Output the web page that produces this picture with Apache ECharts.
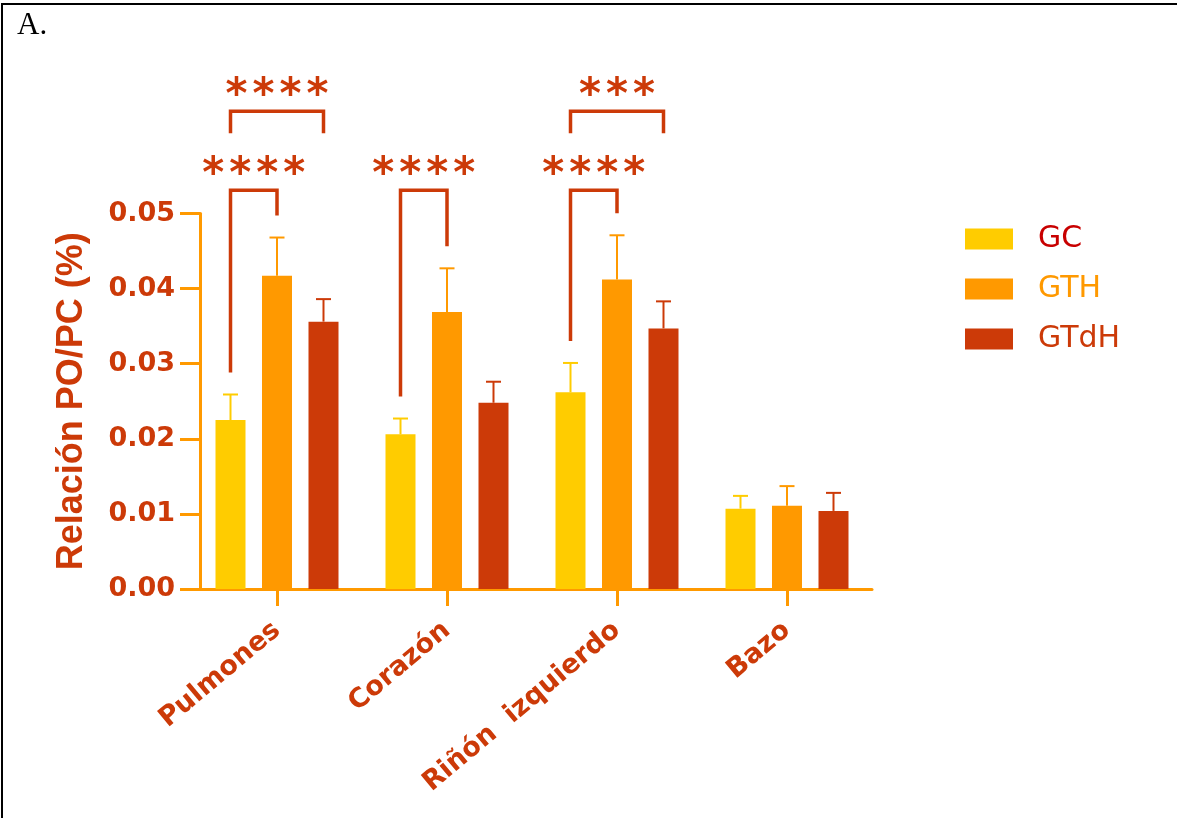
<!DOCTYPE html>
<html>
<head>
<meta charset="utf-8">
<script src="https://cdn.jsdelivr.net/npm/echarts@6/dist/echarts.min.js"></script>
<style>
  html, body { margin: 0; padding: 0; background: #ffffff; }
  #chart { width: 1177px; height: 818px; }
</style>
</head>
<body>
<div id="chart"></div>
<script>
// Organ / body weight ratio per group (mean and upper SEM)
const categories = ['Pulmones', 'Corazón', 'Riñón  izquierdo', 'Bazo'];
const groups = ['GC', 'GTH', 'GTdH'];
const meanGC   = [0.0225, 0.0206, 0.0262, 0.0107];
const meanGTH  = [0.0417, 0.0369, 0.0412, 0.0111];
const meanGTdH = [0.0356, 0.0248, 0.0347, 0.0104];
const errGC    = [0.0034, 0.0021, 0.0039, 0.0017];
const errGTH   = [0.0051, 0.0058, 0.0059, 0.0026];
const errGTdH  = [0.0030, 0.0028, 0.0036, 0.0024];
const yTicks = [0, 0.01, 0.02, 0.03, 0.04, 0.05];

// Significance brackets between groups inside one category
const bracketCat   = [0, 0, 1, 2, 2];
const bracketFrom  = [0, 0, 0, 0, 0];
const bracketTo    = [1, 2, 1, 1, 2];
const bracketLevel = [0.0531, 0.0636, 0.0531, 0.0531, 0.0636];
const bracketTier  = [1, 2, 1, 1, 2];
const bracketStars = ['****', '****', '****', '****', '***'];

const colors = ['#FFCC00', '#FF9900', '#CC3A08'];
const legendColors = ['#C80000', '#FF9900', '#CC3A08'];
const axisColor = '#FF9900';
const textColor = '#CC3A08';
const means = [meanGC, meanGTH, meanGTdH];
const errs = [errGC, errGTH, errGTdH];

const BAR_WIDTH = 30;
const BAR_GAP = 0.55;
const groupOffset = k => (k - (groups.length - 1) / 2) * BAR_WIDTH * (1 + BAR_GAP);
const LEG_GAP = 22;
const SHORT_LEG = 22;
const STAR_PITCH = 27;

const chart = echarts.init(document.getElementById('chart'), null, { renderer: 'canvas' });

const barSeries = groups.map((g, k) => ({
  type: 'bar',
  name: g,
  data: means[k],
  barWidth: BAR_WIDTH,
  barGap: (BAR_GAP * 100) + '%',
  itemStyle: { color: colors[k] },
  z: 2
}));

const errorSeries = groups.map((g, k) => ({
  type: 'custom',
  id: 'err-' + g,
  data: categories.map((_, c) => [c, means[k][c], errs[k][c]]),
  encode: { x: 0, y: 1 },
  clip: false,
  z: 3,
  renderItem: (params, api) => {
    const c = api.value(0), m = api.value(1), e = api.value(2);
    const base = api.coord([c, m]);
    const top = api.coord([c, m + e]);
    const x = base[0] + groupOffset(k);
    const style = { stroke: colors[k], lineWidth: 2 };
    return {
      type: 'group',
      children: [
        { type: 'line', shape: { x1: x, y1: base[1], x2: x, y2: top[1] }, style },
        { type: 'line', shape: { x1: x - 7.5, y1: top[1], x2: x + 7.5, y2: top[1] }, style }
      ]
    };
  }
}));

const bracketSeries = {
  type: 'custom',
  id: 'significance',
  data: bracketCat.map((c, i) => [c, bracketLevel[i]]),
  encode: { x: 0, y: 1 },
  clip: false,
  z: 4,
  renderItem: (params, api) => {
    const i = params.dataIndex;
    const cat = bracketCat[i], a = bracketFrom[i], b = bracketTo[i];
    const xc = api.coord([cat, 0])[0];
    const xa = xc + groupOffset(a), xb = xc + groupOffset(b);
    const yl = api.coord([cat, bracketLevel[i]])[1];
    let ya, yb;
    if (bracketTier[i] === 1) {
      ya = api.coord([cat, means[a][cat] + errs[a][cat]])[1] - LEG_GAP;
      yb = api.coord([cat, means[b][cat] + errs[b][cat]])[1] - LEG_GAP;
    } else {
      ya = yb = yl + SHORT_LEG;
    }
    const children = [{
      type: 'polyline',
      shape: { points: [[xa, ya], [xa, yl], [xb, yl], [xb, yb]] },
      style: { stroke: textColor, lineWidth: 3.5, fill: null, lineJoin: 'miter', lineCap: 'butt' }
    }];
    const n = bracketStars[i].length;
    const cx = (xa + xb) / 2;
    for (let j = 0; j < n; j++) {
      children.push({
        type: 'text',
        style: {
          x: cx + (j - (n - 1) / 2) * STAR_PITCH,
          y: yl - 14,
          text: bracketStars[i][j],
          fill: textColor,
          font: 'bold 42px "DejaVu Sans"',
          align: 'center',
          verticalAlign: 'middle'
        }
      });
    }
    return { type: 'group', children };
  }
};

const option = {
  animation: false,
  backgroundColor: '#ffffff',
  grid: {
    left: 192, top: 213.5, width: 680, height: 375.5,
    containLabel: false, outerBoundsMode: 'none'
  },
  legend: {
    orient: 'vertical',
    left: 965, top: 224,
    padding: 0,
    itemWidth: 48, itemHeight: 21, itemGap: 20,
    icon: 'rect',
    data: groups.map((g, k) => ({ name: g, textStyle: { color: legendColors[k] } })),
    textStyle: { fontFamily: 'DejaVu Sans', fontSize: 30, padding: [0, 0, 0, 20] }
  },
  xAxis: {
    type: 'category',
    data: categories,
    axisLine: { show: true, lineStyle: { color: axisColor, width: 3 } },
    axisTick: { show: true, alignWithLabel: true, length: 17, lineStyle: { color: axisColor, width: 3 } },
    axisLabel: {
      interval: 0, rotate: 40, margin: 38,
      color: textColor, fontFamily: 'DejaVu Sans', fontWeight: 'bold', fontSize: 27
    },
    splitLine: { show: false }
  },
  yAxis: {
    type: 'value',
    min: yTicks[0], max: yTicks[yTicks.length - 1], interval: yTicks[1] - yTicks[0],
    offset: -8,
    axisLine: { show: true, lineStyle: { color: axisColor, width: 3 } },
    axisTick: { show: true, length: 20, lineStyle: { color: axisColor, width: 3 } },
    axisLabel: {
      margin: 25, color: textColor, fontFamily: 'DejaVu Sans', fontWeight: 'bold', fontSize: 27,
      formatter: v => v.toFixed(2)
    },
    splitLine: { show: false },
    name: 'Relación PO/PC (%)',
    nameLocation: 'middle',
    nameGap: 110,
    nameTextStyle: { color: textColor, fontFamily: 'Liberation Sans', fontWeight: 'bold', fontSize: 36 }
  },
  graphic: [
    { type: 'rect', shape: { x: 1, y: 3, width: 1176, height: 2 }, style: { fill: '#000000' } },
    { type: 'rect', shape: { x: 1, y: 3, width: 2, height: 815 }, style: { fill: '#000000' } },
    { type: 'text', left: 17, top: 10, style: { text: 'A.', font: '31px "Liberation Serif"', fill: '#000000' } }
  ],
  series: [...barSeries, ...errorSeries, bracketSeries]
};

chart.setOption(option);
</script>
</body>
</html>
